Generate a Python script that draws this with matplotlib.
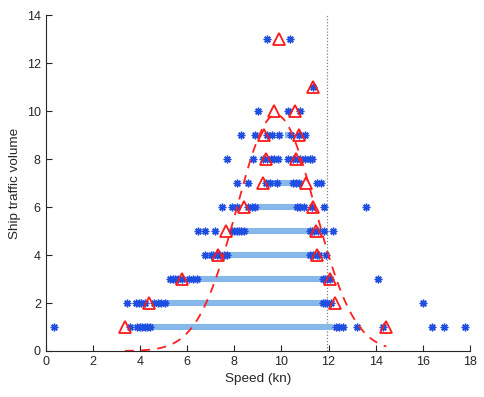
import numpy as np
import matplotlib
matplotlib.use("Agg")
import matplotlib.pyplot as plt

plt.rcParams['font.family'] = ['Liberation Sans', 'DejaVu Sans']

# Light-blue dense bands per traffic volume (start, end speed)
band_rows = [1, 2, 3, 4, 5, 6, 7, 9]
band_start = [4.4, 5.0, 6.45, 7.7, 8.4, 8.95, 9.4, 10.15]
band_end = [12.2, 11.9, 11.95, 11.3, 11.2, 10.9, 10.8, 10.5]

# Individual (asterisk) observations per row
ast = {
    1: [0.35, 3.57, 3.87, 4.0, 4.1, 4.2, 4.3, 4.42, 12.3, 12.45, 12.6, 13.2, 14.3, 16.4, 16.9, 17.8],
    2: [3.45, 3.83, 3.95, 4.05, 4.2, 4.6, 4.75, 4.9, 5.05, 11.75, 11.85, 11.95, 12.1, 16.0],
    3: [5.27, 5.4, 5.5, 5.6, 5.8, 6.1, 6.25, 6.4, 11.75, 11.85, 11.95, 12.05, 14.1],
    4: [6.75, 7.0, 7.1, 7.25, 7.4, 7.55, 7.7, 11.2, 11.35, 11.5, 11.6, 11.9],
    5: [6.45, 6.75, 7.17, 7.9, 8.0, 8.1, 8.2, 8.3, 8.4, 11.2, 11.3, 11.4, 11.55, 11.8, 12.2],
    6: [7.5, 7.9, 8.1, 8.6, 8.75, 8.9, 10.65, 10.8, 10.95, 11.3, 11.8, 13.6],
    7: [8.1, 8.6, 9.35, 9.5, 9.8, 10.5, 10.6, 10.75, 11.5, 11.7],
    8: [7.7, 8.8, 9.2, 9.4, 9.55, 9.7, 9.85, 10.3, 10.5, 10.65, 10.8, 11.0, 11.2, 11.3],
    9: [8.3, 8.9, 9.4, 9.6, 9.9, 10.4, 10.75, 11.0],
    10: [9.0, 10.3, 10.78],
    11: [11.33],
    13: [9.38, 10.35],
}

# Red triangle markers (speed, volume)
tri_x = [3.36, 14.45, 4.38, 12.26, 5.78, 12.05, 7.3, 11.5, 7.64, 11.45, 8.4, 11.33,
         9.2, 11.03, 9.33, 10.6, 9.25, 10.74, 9.68, 10.57, 11.33, 9.88]
tri_y = [1, 1, 2, 2, 3, 3, 4, 4, 5, 5, 6, 6, 7, 7, 8, 8, 9, 9, 10, 10, 11, 13]

# Fitted normal curve parameters
fit_mu = 9.77
fit_sigma = 1.66
fit_amp = 9.85
fit_xmin, fit_xmax = 3.36, 14.45

vline_x = 11.92

fig = plt.figure(figsize=(4.84, 3.97), dpi=100)
ax = fig.add_axes([0.0944, 0.1159, 0.8766, 0.8461])

for r, s, e in zip(band_rows, band_start, band_end):
    ax.plot([s, e], [r, r], color='#86b8ea', lw=4.4, solid_capstyle='butt', zorder=1)

for r, xs in ast.items():
    ax.plot(xs, [r] * len(xs), linestyle='none', marker=(8, 2, 0), markersize=5.5,
            markeredgewidth=1.0, color='#1f4fe0', zorder=2)

ax.plot(tri_x, tri_y, linestyle='none', marker='^', markersize=8.5, markerfacecolor='none',
        markeredgecolor='#ff1a1a', markeredgewidth=1.3, zorder=3)

xc = np.linspace(fit_xmin, fit_xmax, 300)
yc = fit_amp * np.exp(-(xc - fit_mu) ** 2 / (2 * fit_sigma ** 2))
ax.plot(xc, yc, color='#ff2020', lw=1.3, linestyle=(0, (5, 4)), zorder=4)

ax.axvline(vline_x, color='#808080', lw=0.9, linestyle=(0, (1, 1.5)), zorder=0)

ax.set_xlim(0, 18)
ax.set_ylim(0, 14)
ax.set_xticks(range(0, 19, 2))
ax.set_yticks(range(0, 15, 2))
for sp in ['top', 'right']:
    ax.spines[sp].set_visible(False)
for sp in ['left', 'bottom']:
    ax.spines[sp].set_color('#262626')
    ax.spines[sp].set_linewidth(0.8)
ax.tick_params(direction='in', length=4, width=0.8, colors='#262626', labelsize=9)
ax.set_xlabel('Speed (kn)', fontsize=9.7, color='#262626')
ax.set_ylabel('Ship traffic volume', fontsize=9.7, color='#262626')

fig.savefig('out.png', dpi=100)
